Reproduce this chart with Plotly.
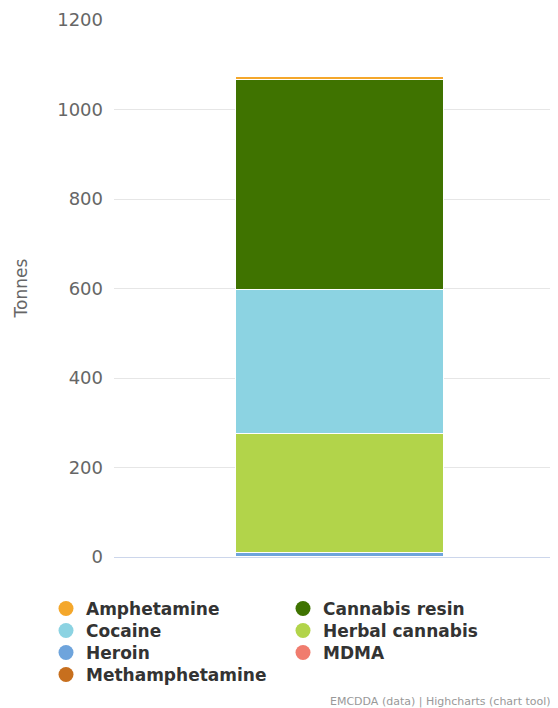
import plotly.graph_objects as go

# ---- data ----
categories = ["Seizures"]
series_names = ["Amphetamine", "Cannabis resin", "Cocaine", "Herbal cannabis",
                "Heroin", "MDMA", "Methamphetamine"]
series_values = [5, 470, 323, 266, 7, 1.5, 0.5]
series_colors = ["#f4a72b", "#3f7300", "#8cd3e2", "#b2d44a",
                 "#6ea4dc", "#f07c6e", "#c76f1e"]
y_ticks = [0, 200, 400, 600, 800, 1000, 1200]
y_title = "Tonnes"
credits = "EMCDDA (data) | Highcharts (chart tool)"

# the page body has an 8px margin, so the figure is drawn 8px smaller
OFF = 8
W, H = 558 - OFF, 708 - OFF
L, R, T, B = 114 - OFF, 4, 20 - OFF, 151
PW, PH = W - L - R, H - T - B

def px_x(p):  # p: pixel in the photographed window
    return (p - OFF - L) / PW

def px_y(p):
    return (H - B - (p - OFF)) / PH

fig = go.Figure()

# bars: first series sits on top of the stack (Highcharts order)
for name, val, col in reversed(list(zip(series_names, series_values, series_colors))):
    fig.add_trace(go.Bar(
        x=categories, y=[val], name=name, showlegend=False,
        marker=dict(color=col, line=dict(color="white", width=1)),
        width=0.4705,
    ))

# legend entries (circle symbols), laid out in two columns, row-wise
col_left = [46, 283]
row_centers = [609, 631, 653, 675]
for i, (name, col) in enumerate(zip(series_names, series_colors)):
    lg = "legend" if i == 0 else f"legend{i+1}"
    fig.add_trace(go.Scatter(
        x=[None], y=[None], mode="markers", name=name,
        marker=dict(color=col, size=15, symbol="circle"),
        legend=lg, showlegend=True,
    ))
    r, c = divmod(i, 2)
    fig.update_layout({lg: dict(
        x=px_x(col_left[c]), xanchor="left",
        y=px_y(row_centers[r]), yanchor="middle",
        bgcolor="rgba(0,0,0,0)", borderwidth=0,
        font=dict(family="DejaVu Sans", size=17, color="#333333", weight="bold"),
        itemsizing="trace",
    )})

fig.update_layout(
    width=W, height=H,
    margin=dict(l=L, r=R, t=T, b=B, autoexpand=False),
    paper_bgcolor="white", plot_bgcolor="white",
    barmode="stack",
    font=dict(family="DejaVu Sans", color="#666666"),
    xaxis=dict(
        range=[-0.5125, 0.4875], showticklabels=False, showgrid=False,
        zeroline=False, showline=True, linecolor="#ccd6eb", linewidth=1,
        fixedrange=True,
    ),
    yaxis=dict(
        range=[0, 1200], tickvals=y_ticks, ticktext=[str(v) for v in y_ticks],
        showgrid=True, gridcolor="#e6e6e6", gridwidth=1, zeroline=False,
        tickfont=dict(family="DejaVu Sans", size=18, color="#666666"),
        ticks="", ticklabelstandoff=10, showline=False,
    ),
    annotations=[
        dict(text=y_title, textangle=-90, x=px_x(20), y=0.5, xref="paper", yref="paper",
             xanchor="center", yanchor="middle", showarrow=False,
             font=dict(family="DejaVu Sans", size=17, color="#666666")),
        dict(text=credits, x=px_x(553), y=px_y(701), xref="paper", yref="paper",
             xanchor="right", yanchor="middle", showarrow=False,
             font=dict(family="DejaVu Sans", size=11, color="#999999")),
    ],
)

fig.write_html("out.html")
